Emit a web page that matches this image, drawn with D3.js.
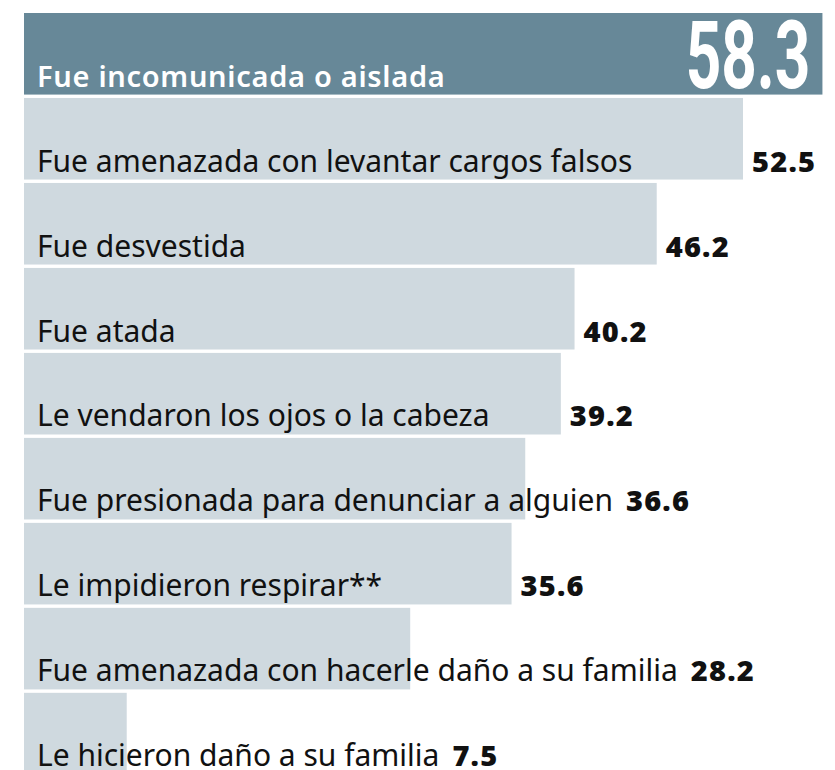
<!DOCTYPE html>
<html>
<head>
<meta charset="utf-8">
<script src="https://cdn.jsdelivr.net/npm/d3@7"></script>
<style>
  body { margin: 0; background: #fff; }
</style>
</head>
<body>
<div id="chart"></div>
<script>
// data
var categories = [
  "Fue incomunicada o aislada",
  "Fue amenazada con levantar cargos falsos",
  "Fue desvestida",
  "Fue atada",
  "Le vendaron los ojos o la cabeza",
  "Fue presionada para denunciar a alguien",
  "Le impidieron respirar**",
  "Fue amenazada con hacerle daño a su familia",
  "Le hicieron daño a su familia"
];
var values = [58.3, 52.5, 46.2, 40.2, 39.2, 36.6, 35.6, 28.2, 7.5];

var data = categories.map((c, i) => ({label: c, value: values[i], top: i === 0}));

var width = 835, height = 770;
var left = 24;

var svg = d3.select("#chart")
    .append("svg")
    .attr("width", width)
    .attr("height", height);

// scales
var x = d3.scaleLinear()
    .domain([0, 52.5])
    .range([left, 743]);

var y = d3.scaleBand()
    .domain(categories)
    .range([13, 13 + 84.6 * categories.length])
    .paddingInner(0.04)
    .paddingOuter(0);

var rows = svg.selectAll("g.row")
    .data(data)
    .enter()
    .append("g")
    .attr("class", "row");

// bars
rows.append("rect")
    .attr("x", x(0))
    .attr("y", d => y(d.label))
    .attr("width", d => x(d.value) - x(0))
    .attr("height", y.bandwidth())
    .style("fill", d => d.top ? "#678898" : "#cfd9df");

// labels
rows.append("text")
    .attr("class", "lbl")
    .attr("x", left + 13)
    .attr("y", d => y(d.label) + y.bandwidth() - 8)
    .text(d => d.label)
    .style("font-family", "'Noto Sans', 'Open Sans', sans-serif")
    .style("font-size", d => d.top ? "29px" : "30px")
    .style("letter-spacing", d => d.top ? "0.7px" : "0px")
    .style("font-weight", d => d.top ? 600 : 400)
    .style("fill", d => d.top ? "#fff" : "#111");

// values for the normal rows
rows.filter(d => !d.top).each(function(d) {
    var g = d3.select(this);
    var lw = g.select("text.lbl").node().getComputedTextLength();
    var vx = Math.max(x(d.value) + 9, left + 13 + lw + 13);
    g.append("text")
        .attr("x", vx)
        .attr("y", y(d.label) + y.bandwidth() - 8)
        .text(d3.format(".1f")(d.value))
        .style("font-family", "'Noto Sans', 'Open Sans', sans-serif")
        .style("font-size", "29px")
        .style("letter-spacing", "1.2px")
        .style("font-weight", 900)
        .style("fill", "#111");
});

// big value for the highlighted row
var topRow = data[0];
var bx = x(topRow.value) - 12, by = y(topRow.label) + y.bandwidth() - 7;
svg.append("text")
    .attr("transform", `translate(${bx}, ${by}) scale(0.66, 1)`)
    .attr("text-anchor", "end")
    .text(d3.format(".1f")(topRow.value))
    .style("font-family", "Roboto, sans-serif")
    .style("font-size", "94px")
    .style("font-weight", 700)
    .style("fill", "#fff");
</script>
</body>
</html>
